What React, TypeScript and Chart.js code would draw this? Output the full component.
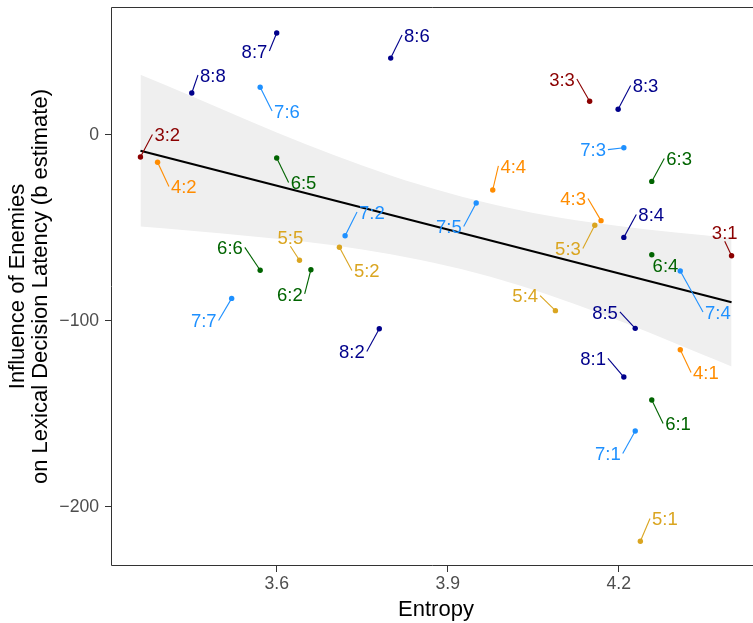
import React, { useEffect, useRef } from 'react';
import { Chart, registerables } from 'chart.js';

Chart.register(...registerables);

// ---- data ----
const labels = ['3:1', '3:2', '3:3', '4:1', '4:2', '4:3', '4:4', '5:1', '5:2', '5:3', '5:4', '5:5',
  '6:1', '6:2', '6:3', '6:4', '6:5', '6:6', '7:1', '7:2', '7:3', '7:4', '7:5', '7:6', '7:7',
  '8:1', '8:2', '8:3', '8:4', '8:5', '8:6', '8:7', '8:8'];
const entropy = [4.398, 3.361, 4.149, 4.308, 3.391, 4.169, 3.979, 4.238, 3.710, 4.158, 4.089, 3.640,
  4.258, 3.660, 4.258, 4.258, 3.600, 3.571, 4.229, 3.720, 4.209, 4.308, 3.950, 3.571, 3.521,
  4.209, 3.780, 4.199, 4.209, 4.229, 3.800, 3.600, 3.451];
const estimate = [-65.1, -12.0, 18.0, -115.6, -14.8, -46.2, -29.7, -218.6, -60.5, -48.7, -94.6, -67.5,
  -142.6, -72.6, -25.1, -64.5, -12.5, -72.9, -159.3, -54.3, -7.0, -73.3, -36.7, 25.5, -88.0,
  -130.3, -104.3, 13.7, -55.2, -104.1, 41.2, 54.7, 22.4];
// where each repelled text label sits (data units)
const labelEntropy = [4.386, 3.408, 4.1005, 4.353, 3.437, 4.120, 4.015, 4.281, 3.758, 4.111, 4.036, 3.624,
  4.304, 3.623, 4.306, 4.282, 3.647, 3.518, 4.181, 3.767, 4.155, 4.374, 3.902, 3.618, 3.472,
  4.155, 3.732, 4.247, 4.257, 4.176, 3.846, 3.561, 3.488];
const labelEstimate = [-52.6, 0.1, 29.9, -127.8, -27.8, -34.3, -16.8, -206.3, -73.0, -61.2, -86.5, -55.3,
  -155.3, -85.6, -12.8, -70.3, -25.7, -60.6, -171.4, -41.6, -8.0, -95.3, -49.4, 12.7, -99.9,
  -120.3, -116.6, 26.5, -42.9, -95.3, 53.6, 45.0, 32.1];

const groups = ['3', '4', '5', '6', '7', '8'];
const groupColors: Record<string, string> = {
  '3': '#8B0000', '4': '#FF8C00', '5': '#DAA520', '6': '#006400', '7': '#1E90FF', '8': '#00008B',
};

const fitX = [3.361, 4.398];
const fitY = [-8.6, -90.1];
const bandX = [3.361, 3.45, 3.55, 3.65, 3.75, 3.85, 3.95, 4.05, 4.15, 4.25, 4.35, 4.398];
const bandUpper = [32.2, 20.8, 7.6, -5.0, -16.5, -26.8, -35.3, -42.1, -47.1, -50.9, -54.0, -55.6];
const bandLower = [-49.4, -51.6, -54.4, -57.6, -61.7, -67.2, -74.3, -83.3, -94.1, -105.9, -118.6, -124.6];

const xTicks = [3.6, 3.9, 4.2];
const yTicks = [0, -100, -200];
const xTitle = 'Entropy';
const yTitle = ['Influence of Enemies', 'on Lexical Decision Latency (b estimate)'];

const FONT = "'Liberation Sans', Arial, Helvetica, sans-serif";

const decor = {
  id: 'decor',
  afterDatasetsDraw(chart: any) {
    const { ctx, scales: { x, y } } = chart;
    ctx.save();
    const fs = 18.5;
    const capH = 0.716 * fs;
    ctx.font = `${fs}px ${FONT}`;
    labels.forEach((lab, i) => {
      const color = groupColors[lab.split(':')[0]];
      const px = x.getPixelForValue(entropy[i]);
      const py = y.getPixelForValue(estimate[i]);
      const cx = x.getPixelForValue(labelEntropy[i]);
      const cy = y.getPixelForValue(labelEstimate[i]);
      const w = ctx.measureText(lab).width;
      const L = cx - w / 2 - 2, R = cx + w / 2 + 2;
      const T = cy - capH / 2 - 2, B = cy + capH / 2 + 2;
      const qx = Math.min(Math.max(px, L), R);
      const qy = Math.min(Math.max(py, T), B);
      if (Math.hypot(px - qx, py - qy) > 6) {
        const cands = [[L, cy], [R, cy], [cx, T], [cx, B]];
        let best = cands[0];
        let bd = Infinity;
        for (const c of cands) {
          const d = Math.hypot(c[0] - px, c[1] - py);
          if (d < bd) { bd = d; best = c; }
        }
        ctx.strokeStyle = color;
        ctx.lineWidth = 1.1;
        ctx.beginPath();
        ctx.moveTo(px, py);
        ctx.lineTo(best[0], best[1]);
        ctx.stroke();
      }
      ctx.fillStyle = color;
      ctx.textAlign = 'center';
      ctx.textBaseline = 'alphabetic';
      ctx.fillText(lab, cx, cy + capH / 2);
    });
    ctx.restore();
  },
  afterDraw(chart: any) {
    const { ctx, chartArea: ca } = chart;
    ctx.save();
    ctx.strokeStyle = '#333333';
    ctx.lineWidth = 1;
    const l = Math.round(ca.left) + 0.5;
    const t = Math.round(ca.top) + 0.5;
    const b = Math.round(ca.bottom) - 0.5;
    ctx.beginPath();
    ctx.moveTo(chart.width, t);
    ctx.lineTo(l, t);
    ctx.lineTo(l, b);
    ctx.lineTo(chart.width, b);
    ctx.stroke();

    ctx.fillStyle = '#000000';
    ctx.font = `22px ${FONT}`;
    ctx.textAlign = 'center';
    ctx.textBaseline = 'alphabetic';
    ctx.fillText(xTitle, ca.left + 325, ca.bottom + 50);
    const midY = (ca.top + ca.bottom) / 2;
    const baseX = [23.5, 47];
    yTitle.forEach((line, k) => {
      ctx.save();
      ctx.translate(baseX[k], midY);
      ctx.rotate(-Math.PI / 2);
      ctx.fillText(line, 0, 0);
      ctx.restore();
    });
    ctx.restore();
  },
};

export default function App() {
  const ref = useRef<HTMLCanvasElement | null>(null);
  useEffect(() => {
    if (!ref.current) return;
    const scatterSets = groups.map((g) => {
      const pts: { x: number; y: number }[] = [];
      labels.forEach((lab, i) => {
        if (lab.split(':')[0] === g) pts.push({ x: entropy[i], y: estimate[i] });
      });
      return {
        type: 'scatter' as const,
        label: g,
        data: pts,
        pointRadius: 2.7,
        pointBorderWidth: 0,
        pointBackgroundColor: groupColors[g],
        backgroundColor: groupColors[g],
        borderColor: groupColors[g],
        showLine: false,
        order: 1,
      };
    });
    const chart = new Chart(ref.current, {
      type: 'scatter',
      data: {
        datasets: [
          {
            type: 'line',
            label: 'upper',
            data: bandX.map((v, i) => ({ x: v, y: bandUpper[i] })),
            borderColor: 'rgba(0,0,0,0)',
            borderWidth: 0,
            pointRadius: 0,
            fill: '+1',
            backgroundColor: '#EFEFEF',
            cubicInterpolationMode: 'monotone',
            order: 3,
          } as any,
          {
            type: 'line',
            label: 'lower',
            data: bandX.map((v, i) => ({ x: v, y: bandLower[i] })),
            borderColor: 'rgba(0,0,0,0)',
            borderWidth: 0,
            pointRadius: 0,
            fill: false,
            cubicInterpolationMode: 'monotone',
            order: 4,
          } as any,
          {
            type: 'line',
            label: 'fit',
            data: fitX.map((v, i) => ({ x: v, y: fitY[i] })),
            borderColor: '#000000',
            borderWidth: 2.2,
            pointRadius: 0,
            fill: false,
            order: 2,
          } as any,
          ...scatterSets,
        ],
      },
      options: {
        responsive: false,
        animation: false,
        devicePixelRatio: 1,
        layout: { autoPadding: false, padding: { top: 7, right: 0, left: 0, bottom: 0 } },
        plugins: {
          legend: { display: false },
          tooltip: { enabled: false },
        },
        scales: {
          x: {
            type: 'linear',
            min: 3.3093,
            max: 4.4356,
            afterFit: (s: any) => { s.height = 57; s.paddingLeft = 0; s.paddingRight = 0; },
            afterBuildTicks: (s: any) => { s.ticks = xTicks.map((v) => ({ value: v })); },
            ticks: {
              autoSkip: false,
              maxRotation: 0,
              padding: 2,
              color: '#4D4D4D',
              font: { family: FONT, size: 17.6 },
              callback: (v: any) => Number(v).toFixed(1),
            },
            grid: { drawOnChartArea: false, drawTicks: true, tickLength: 6, color: '#333333', lineWidth: 1 },
            border: { display: false },
          },
          y: {
            type: 'linear',
            min: -231.88,
            max: 68.66,
            afterFit: (s: any) => { s.width = 111; s.paddingTop = 0; s.paddingBottom = 0; },
            afterBuildTicks: (s: any) => { s.ticks = yTicks.map((v) => ({ value: v })); },
            ticks: {
              autoSkip: false,
              padding: 6,
              color: '#4D4D4D',
              font: { family: FONT, size: 17.6 },
              callback: (v: any) => (Number(v) < 0 ? '\u2212' + Math.abs(Number(v)) : String(v)),
            },
            grid: { drawOnChartArea: false, drawTicks: true, tickLength: 6, color: '#333333', lineWidth: 1 },
            border: { display: false },
          },
        },
      },
      plugins: [decor],
    });
    return () => chart.destroy();
  }, []);
  return (
    <div style={{ position: 'absolute', left: 0, top: 0, width: 753, height: 623, background: '#ffffff' }}>
      <canvas ref={ref} width={753} height={623} style={{ width: 753, height: 623, display: 'block' }} />
    </div>
  );
}
